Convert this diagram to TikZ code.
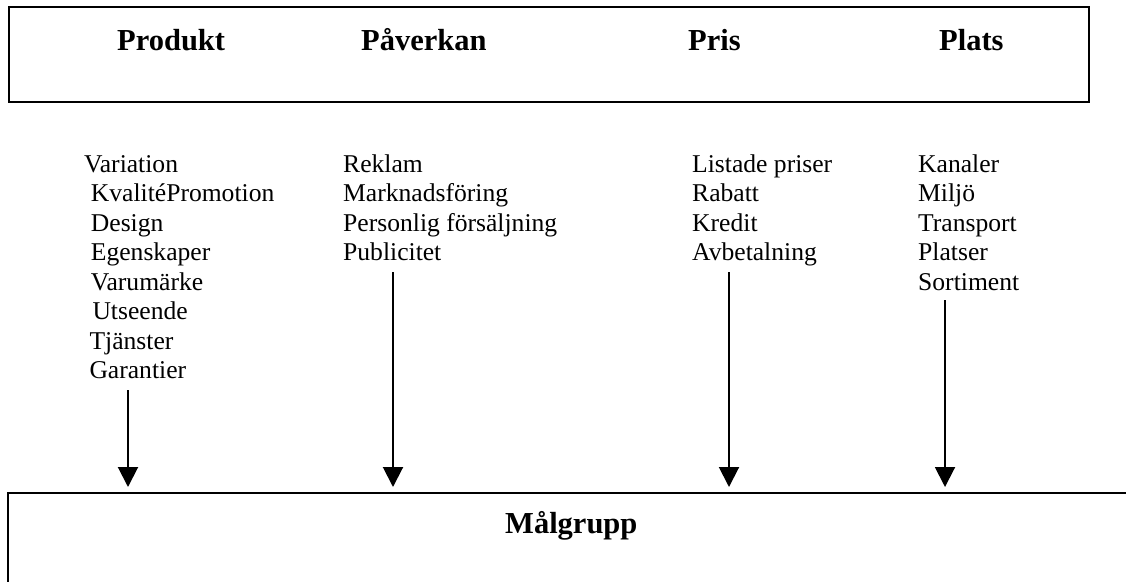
\documentclass[tikz,border=0pt]{standalone}
\usepackage{fontspec}
\setmainfont{Liberation Serif}
\usetikzlibrary{arrows.meta}
\begin{document}
\begin{tikzpicture}[x=1pt,y=-1pt,
  frame/.style={draw, line width=2pt, inner sep=0pt, outer sep=0pt, anchor=north west},
  head/.style={font=\fontsize{30.5}{35}\selectfont\bfseries, inner sep=0pt, anchor=base west},
  item/.style={font=\fontsize{25.6}{29.5}\selectfont, inner sep=0pt, anchor=base west},
  arr/.style={line width=2pt, shorten >=6pt, -{Triangle[length=20pt,width=20pt]}}]
\useasboundingbox (0,0) rectangle (1126,581);
\clip (0,0) rectangle (1126,581);

% the four P's
\node[frame, minimum width=1080pt, minimum height=95pt] (mix) at (9,7) {};
\node[head] (hprod) at (117,50) {Produkt};
\node[head] (hpav)  at (361,50) {Påverkan};
\node[head] (hpris) at (688,50) {Pris};
\node[head] (hplats) at (939,50) {Plats};

% target group box (runs off the page to the right and below)
\node[frame, minimum width=1200pt, minimum height=150pt] (goal) at (8,493) {};
\node[head] (hgoal) at (505,533) {Målgrupp};

% Produkt
\foreach \t/\x [count=\i] in {Variation/84, KvalitéPromotion/90.7, Design/90.7,
    Egenskaper/90.7, Varumärke/90.7, Utseende/92.3, Tjänster/89.3, Garantier/89.3}
  \node[item] (prod\i) at (\x,{172+29.5*(\i-1)}) {\t};
% Påverkan
\foreach \t [count=\i] in {Reklam, Marknadsföring, Personlig försäljning, Publicitet}
  \node[item] (pav\i) at (343,{172+29.5*(\i-1)}) {\t};
% Pris
\foreach \t [count=\i] in {Listade priser, Rabatt, Kredit, Avbetalning}
  \node[item] (pris\i) at (692,{172+29.5*(\i-1)}) {\t};
% Plats
\foreach \t [count=\i] in {Kanaler, Miljö, Transport, Platser, Sortiment}
  \node[item] (plats\i) at (918,{172+29.5*(\i-1)}) {\t};

% arrows into the target group
\coordinate (sprod) at (128,390);
\coordinate (spav)  at (393,272);
\coordinate (spris) at (729,272);
\coordinate (splats) at (945,300);
\foreach \s in {sprod, spav, spris, splats}
  \draw[arr] (\s) -- (\s |- goal.north);
\end{tikzpicture}
\end{document}
